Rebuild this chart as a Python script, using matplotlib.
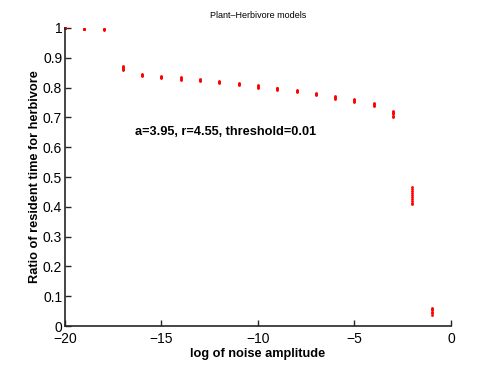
import matplotlib
matplotlib.use("Agg")
from matplotlib import pyplot as plt

# log10 of noise amplitude
log_noise = [-20, -19, -18, -17, -16, -15, -14, -13, -12, -11,
             -10, -9, -8, -7, -6, -5, -4, -3, -2, -1]

# resident time ratios of the repeated runs at each noise level
ratio_runs = [
    [1.000, 1.000, 0.999, 1.000],
    [0.995, 0.996, 0.995, 0.996],
    [0.995, 0.994, 0.995, 0.996],
    [0.858, 0.862, 0.865, 0.868, 0.872],
    [0.838, 0.841, 0.843, 0.846],
    [0.832, 0.835, 0.837, 0.839],
    [0.827, 0.830, 0.832, 0.835],
    [0.821, 0.824, 0.826, 0.829],
    [0.816, 0.818, 0.820, 0.823],
    [0.808, 0.811, 0.813, 0.816],
    [0.800, 0.803, 0.806, 0.809],
    [0.792, 0.795, 0.797, 0.800],
    [0.784, 0.787, 0.789, 0.792],
    [0.774, 0.777, 0.779, 0.782],
    [0.762, 0.765, 0.768, 0.771],
    [0.751, 0.754, 0.757, 0.761],
    [0.737, 0.741, 0.744, 0.748],
    [0.702, 0.706, 0.710, 0.714, 0.718, 0.722],
    [0.408, 0.414, 0.420, 0.426, 0.433, 0.440, 0.447, 0.454, 0.461, 0.466],
    [0.038, 0.043, 0.048, 0.053, 0.058, 0.062],
]

plt.rcParams["font.family"] = ["Liberation Sans", "DejaVu Sans"]

fig = plt.figure(figsize=(4.98, 3.68), dpi=100)
ax = fig.add_axes([0.1305, 0.114, 0.775, 0.810])

for x, runs in zip(log_noise, ratio_runs):
    ax.plot([x] * len(runs), runs, linestyle="none", marker="o",
            markersize=2.0, markeredgewidth=0, color="red", clip_on=False)

ax.set_xlim(-20, 0)
ax.set_ylim(0, 1)
ax.set_xticks([-20, -15, -10, -5, 0])
ax.set_xticklabels(["\u221220", "\u221215", "\u221210", "\u22125", "0"])
ax.set_yticks([0, 0.1, 0.2, 0.3, 0.4, 0.5, 0.6, 0.7, 0.8, 0.9, 1])
ax.set_yticklabels(["0", "0.1", "0.2", "0.3", "0.4", "0.5", "0.6", "0.7", "0.8", "0.9", "1"])

for side in ["top", "right"]:
    ax.spines[side].set_visible(False)
for side in ["left", "bottom"]:
    ax.spines[side].set_linewidth(1.2)
    ax.spines[side].set_color("#262626")
ax.tick_params(direction="in", length=4, width=1.0, labelsize=10, pad=2, color="#262626")
ax.tick_params(axis="x", pad=4)

ax.set_xlabel("log of noise amplitude", fontsize=9.2, fontweight="bold", labelpad=2)
ax.set_ylabel("Ratio of resident time for herbivore", fontsize=9.2, fontweight="bold", labelpad=1)
ax.set_title("Plant\u2013Herbivore models", fontsize=6.5, pad=7)

ax.text(-16.35, 0.65, "a=3.95, r=4.55, threshold=0.01", fontsize=9.2,
        fontweight="bold", va="center", ha="left")

fig.savefig("out.png", dpi=100)
